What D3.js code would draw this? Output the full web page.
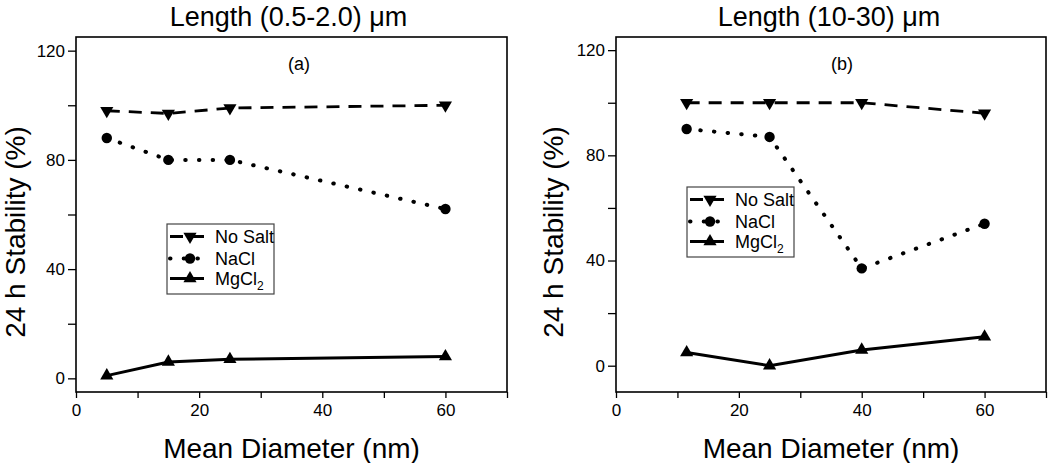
<!DOCTYPE html>
<html><head><meta charset="utf-8">
<script src="https://cdn.jsdelivr.net/npm/d3@7"></script>
<style>
html,body{margin:0;padding:0;background:#fff;}
text{font-family:"Liberation Sans",Arial,sans-serif;fill:#000;}
</style></head>
<body><svg id="c" width="1050" height="463"></svg>
<script>
// ---- data ----
const seriesNames = ["No Salt", "NaCl", "MgCl2"];
const xA = [5, 15, 25, 60];
const noSaltA = [98, 97, 99, 100];
const naclA = [88, 80, 80, 62];
const mgcl2A = [1, 6, 7, 8];
const xB = [11.5, 25, 40, 60];
const noSaltB = [100, 100, 100, 96];
const naclB = [90, 87, 37, 54];
const mgcl2B = [5, 0, 6, 11];
const yTicks = [0, 20, 40, 60, 80, 100, 120];
const xTicks = [0, 10, 20, 30, 40, 50, 60, 70];
const titles = ["Length (0.5-2.0) \u03bcm", "Length (10-30) \u03bcm"];
const panelLabels = ["(a)", "(b)"];
const xLabel = "Mean Diameter (nm)";
const yLabel = "24 h Stability (%)";

const svg = d3.select("#c");

const styles = [
  {dash: "13,9", cap: "butt", w: 2.8, sym: d3.symbolTriangle, rot: 180},
  {dash: "0.5,13.2", cap: "round", w: 4, sym: d3.symbolCircle, rot: 0},
  {dash: null, cap: "butt", w: 3, sym: d3.symbolTriangle, rot: 0}
];
const symSize = [75, 85, 75];

function panel(cfg) {
  const g = svg.append("g");
  const x = d3.scaleLinear().domain([0, 70]).range([cfg.left, cfg.right]);
  const y = d3.scaleLinear().domain(cfg.ydom).range([cfg.bottom, cfg.top]);

  // y axis
  const ya = g.append("g").attr("transform", `translate(${cfg.left},0)`)
    .call(d3.axisLeft(y).tickValues(yTicks).tickSize(8).tickPadding(3)
      .tickFormat(d => d % 40 === 0 ? d : ""));
  ya.select(".domain").remove();
  ya.selectAll("line").attr("stroke", "#000").attr("stroke-width", 1.3);
  ya.selectAll("text").style("font-size", "17px");

  // x axis
  const xa = g.append("g").attr("transform", `translate(0,${cfg.bottom})`)
    .call(d3.axisBottom(x).tickValues(xTicks).tickSize(6).tickPadding(6)
      .tickFormat(d => d % 20 === 0 && d < 70 ? d : ""));
  xa.select(".domain").remove();
  xa.selectAll("line").attr("stroke", "#000").attr("stroke-width", 1.3);
  xa.selectAll("text").style("font-size", "17px");

  // frame
  g.append("rect").attr("x", cfg.left).attr("y", cfg.top)
    .attr("width", cfg.right - cfg.left).attr("height", cfg.bottom - cfg.top)
    .attr("fill", "none").attr("stroke", "#000").attr("stroke-width", 1.6);

  const line = d3.line().x((d, i) => x(cfg.xs[i])).y(d => y(d));
  cfg.series.forEach((vals, k) => {
    const s = styles[k];
    g.append("path").datum(vals).attr("d", line).attr("fill", "none")
      .attr("stroke", "#000").attr("stroke-width", s.w)
      .attr("stroke-linecap", s.cap)
      .attr("stroke-dasharray", s.dash);
    g.selectAll(null).data(vals).enter().append("path")
      .attr("d", d3.symbol().type(s.sym).size(symSize[k]))
      .attr("transform", (d, i) => `translate(${x(cfg.xs[i])},${y(d)}) rotate(${s.rot})`)
      .attr("fill", "#000");
  });

  // titles
  svg.append("text").attr("x", cfg.tx).attr("y", 26).attr("text-anchor", "middle")
    .style("font-size", "27px").text(cfg.title);
  svg.append("text").attr("x", cfg.lx).attr("y", 70).attr("text-anchor", "middle")
    .style("font-size", "18px").text(cfg.label);
  svg.append("text").attr("x", (cfg.left + cfg.right) / 2).attr("y", 458).attr("text-anchor", "middle")
    .style("font-size", "28px").text(xLabel);
  svg.append("text").attr("transform", `translate(${cfg.yx},232) rotate(-90)`)
    .attr("text-anchor", "middle").style("font-size", "28px").text(yLabel);

  // legend
  const L = cfg.legend;
  const lg = svg.append("g");
  lg.append("rect").attr("x", L.x).attr("y", L.y).attr("width", 107).attr("height", 70)
    .attr("fill", "#fff").attr("stroke", "#444").attr("stroke-width", 1.2);
  const rows = [12.5, 34.5, 54.5];
  seriesNames.forEach((name, k) => {
    const s = styles[k];
    const cy = L.y + rows[k];
    lg.append("line").attr("x1", L.x + 3).attr("x2", L.x + 37).attr("y1", cy).attr("y2", cy)
      .attr("stroke", "#000").attr("stroke-width", s.w).attr("stroke-linecap", s.cap)
      .attr("stroke-dasharray", s.dash);
    lg.append("path").attr("d", d3.symbol().type(s.sym).size(symSize[k]))
      .attr("transform", `translate(${L.x + 23},${cy}) rotate(${s.rot})`).attr("fill", "#000");
    const t = lg.append("text").attr("x", L.x + 48).attr("y", cy + 6.5).style("font-size", "18px");
    if (name === "MgCl2") {
      t.append("tspan").text("MgCl");
      t.append("tspan").attr("dy", 5).style("font-size", "12px").text("2");
    } else t.text(name);
  });
}

panel({left: 76, right: 507, top: 37, bottom: 392, ydom: [-5, 125],
  xs: xA, series: [noSaltA, naclA, mgcl2A], title: titles[0], label: panelLabels[0],
  tx: 288.5, lx: 299, yx: 25, legend: {x: 167, y: 224}});
panel({left: 616, right: 1046, top: 37, bottom: 392, ydom: [-10, 125],
  xs: xB, series: [noSaltB, naclB, mgcl2B], title: titles[1], label: panelLabels[1],
  tx: 829, lx: 842, yx: 563, legend: {x: 687, y: 187}});
</script></body></html>
